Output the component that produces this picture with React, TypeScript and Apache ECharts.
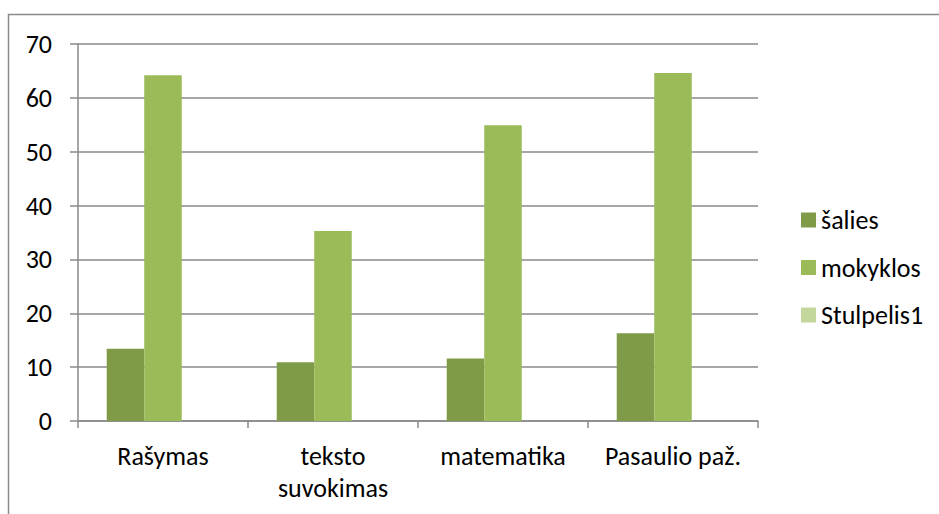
import React, { useEffect, useRef } from "react";
import * as echarts from "echarts";

const categories = ["Rašymas", "teksto\nsuvokimas", "matematika", "Pasaulio paž."];
const seriesNames = ["šalies", "mokyklos", "Stulpelis1"];
const salies = [13.4, 10.9, 11.6, 16.3];
const mokyklos = [64.2, 35.3, 54.9, 64.6];
const stulpelis1: (number | null)[] = [null, null, null, null];
const yTicks = { min: 0, max: 70, interval: 10 };

const FONT = 'Carlito, Lato, "Open Sans", sans-serif';
const GRID_COLOR = "#8a8a8a";

export default function App() {
  const ref = useRef<HTMLDivElement>(null);
  useEffect(() => {
    document.body.style.margin = "0";
    if (!ref.current) return;
    const chart = echarts.init(ref.current, null, { renderer: "svg" });
    chart.setOption({
      animation: false,
      backgroundColor: "#ffffff",
      textStyle: { fontFamily: FONT },
      graphic: [
        {
          type: "rect",
          shape: { x: 8.5, y: 14.5, width: 1200, height: 1000 },
          style: { fill: "none", stroke: GRID_COLOR, lineWidth: 1.5 },
          silent: true,
        },
      ],
      grid: { left: 78, right: 181, top: 44, bottom: 93, containLabel: false },
      legend: {
        orient: "vertical",
        left: 796,
        top: 200,
        itemWidth: 15,
        itemHeight: 15,
        itemGap: 17.5,
        icon: "rect",
        data: seriesNames,
        textStyle: { fontFamily: FONT, fontSize: 26, color: "#000", lineHeight: 30 },
      },
      xAxis: {
        type: "category",
        data: categories,
        axisLine: { show: true, lineStyle: { color: GRID_COLOR, width: 1.5 } },
        axisTick: { show: true, length: 7, lineStyle: { color: GRID_COLOR, width: 1.5 } },
        axisLabel: {
          fontFamily: FONT,
          fontSize: 26,
          lineHeight: 32,
          color: "#000",
          margin: 19,
          interval: 0,
        },
      },
      yAxis: {
        type: "value",
        min: yTicks.min,
        max: yTicks.max,
        interval: yTicks.interval,
        axisLine: { show: true, lineStyle: { color: GRID_COLOR, width: 1.5 } },
        axisTick: { show: true, length: 8, lineStyle: { color: GRID_COLOR, width: 1.5 } },
        splitLine: { show: true, lineStyle: { color: GRID_COLOR, width: 1.5 } },
        axisLabel: { fontFamily: FONT, fontSize: 26, color: "#000", margin: 26 },
      },
      series: [
        {
          name: seriesNames[0],
          type: "bar",
          data: salies,
          barGap: "0%",
          barCategoryGap: "33.8%",
          itemStyle: { color: "#7f9b48" },
        },
        {
          name: seriesNames[1],
          type: "bar",
          data: mokyklos,
          barGap: "0%",
          barCategoryGap: "33.8%",
          itemStyle: { color: "#9bbb59" },
        },
        {
          name: seriesNames[2],
          type: "bar",
          data: stulpelis1,
          barGap: "0%",
          barCategoryGap: "33.8%",
          itemStyle: { color: "#c3d69b" },
        },
      ],
    });
    return () => chart.dispose();
  }, []);
  return <div ref={ref} style={{ width: 939, height: 514 }} />;
}
